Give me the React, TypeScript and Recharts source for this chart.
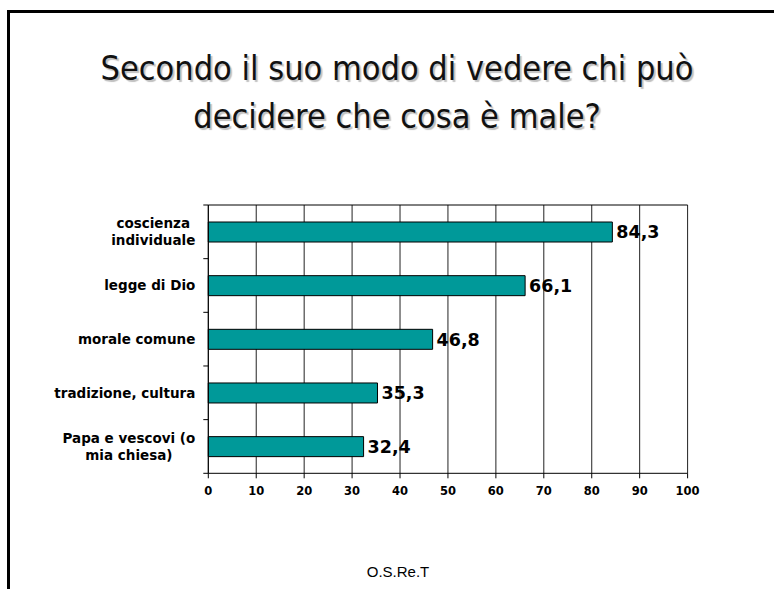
import { BarChart, Bar, XAxis, YAxis, CartesianGrid, LabelList } from 'recharts';

const categories = [
  'coscienza\nindividuale',
  'legge di Dio',
  'morale comune',
  'tradizione, cultura',
  'Papa e vescovi (o\nmia chiesa)',
];
const values = [84.3, 66.1, 46.8, 35.3, 32.4];
const xTicks = [0, 10, 20, 30, 40, 50, 60, 70, 80, 90, 100];

const data = categories.map((name, i) => ({ name, value: values[i] }));

const labelFont = "'DejaVu Sans', Verdana, sans-serif";

let ctx: CanvasRenderingContext2D | null = null;
function textWidth(s: string) {
  if (!ctx) ctx = document.createElement('canvas').getContext('2d');
  if (!ctx) return s.length * 8;
  ctx.font = `bold 13.5px ${labelFont}`;
  return ctx.measureText(s).width;
}

function CategoryTick(props: any) {
  const { x, y, payload, index, visibleTicksCount } = props;
  const lines: string[] = String(payload.value).split('\n');
  const half = payload.offset ?? 0;
  const right = x - 13;
  const widest = Math.max(...lines.map(textWidth));
  const cx = right - widest / 2;
  const lh = 17;
  const top = y - ((lines.length - 1) * lh) / 2;
  return (
    <g>
      <line x1={x - 5} x2={x} y1={y - half} y2={y - half} stroke="#000" />
      {index === visibleTicksCount - 1 && (
        <line x1={x - 5} x2={x} y1={y + half} y2={y + half} stroke="#000" />
      )}
      <text
        textAnchor="middle"
        fontFamily={labelFont}
        fontWeight="bold"
        fontSize={13.5}
        fill="#000"
      >
        {lines.map((l, i) => (
          <tspan key={i} x={cx} y={top + i * lh} dy="0.35em">
            {l}
          </tspan>
        ))}
      </text>
    </g>
  );
}

export default function App() {
  return (
    <div
      style={{
        position: 'absolute',
        left: 0,
        top: 0,
        width: 774,
        height: 589,
        background: '#fff',
        overflow: 'hidden',
      }}
    >
      <div
        style={{
          position: 'absolute',
          left: 7,
          top: 10,
          width: 774,
          height: 600,
          borderTop: '3px solid #000',
          borderLeft: '3px solid #000',
        }}
      />
      <div
        style={{
          position: 'absolute',
          left: 0,
          top: 44,
          width: 794,
          textAlign: 'center',
          fontFamily: "'DejaVu Sans Condensed', 'DejaVu Sans', sans-serif",
          fontSize: 34,
          lineHeight: '48px',
          color: '#111',
          textShadow: '2px 2px 1px #c0c0c0',
        }}
      >
        Secondo il suo modo di vedere chi può
        <br />
        decidere che cosa è male?
      </div>
      <div style={{ position: 'absolute', left: 0, top: 0 }}>
        <BarChart
          width={774}
          height={589}
          data={data}
          layout="vertical"
          margin={{ top: 204, right: 86.4, bottom: 85.7, left: 0 }}
        >
          <CartesianGrid horizontal={false} stroke="#222" />
          <XAxis
            type="number"
            domain={[0, 100]}
            ticks={xTicks}
            interval={0}
            height={30}
            tickSize={5}
            tickMargin={9}
            stroke="#000"
            tick={{ fontSize: 11.5, fontWeight: 'bold', fill: '#000', fontFamily: labelFont }}
          />
          <XAxis
            xAxisId="top"
            orientation="top"
            type="number"
            domain={[0, 100]}
            height={1}
            tick={false}
            tickLine={false}
            stroke="#000"
          />
          <YAxis
            type="category"
            dataKey="name"
            width={208.3}
            tickSize={0}
            tickMargin={0}
            tickLine={false}
            stroke="#000"
            interval={0}
            tick={<CategoryTick />}
          />
          <Bar
            dataKey="value"
            fill="#009999"
            stroke="#000"
            strokeWidth={1}
            barSize={20}
            isAnimationActive={false}
          >
            <LabelList
              dataKey="value"
              position="right"
              offset={4}
              formatter={(v: any) => String(v).replace('.', ',')}
              style={{ fontSize: 17.5, fontWeight: 'bold', fill: '#000', fontFamily: labelFont }}
            />
          </Bar>
        </BarChart>
      </div>
      <div
        style={{
          position: 'absolute',
          left: 298,
          top: 562,
          width: 200,
          textAlign: 'center',
          fontFamily: "'Liberation Sans', Arial, sans-serif",
          fontSize: 15,
          lineHeight: '20px',
          color: '#000',
        }}
      >
        O.S.Re.T
      </div>
    </div>
  );
}
